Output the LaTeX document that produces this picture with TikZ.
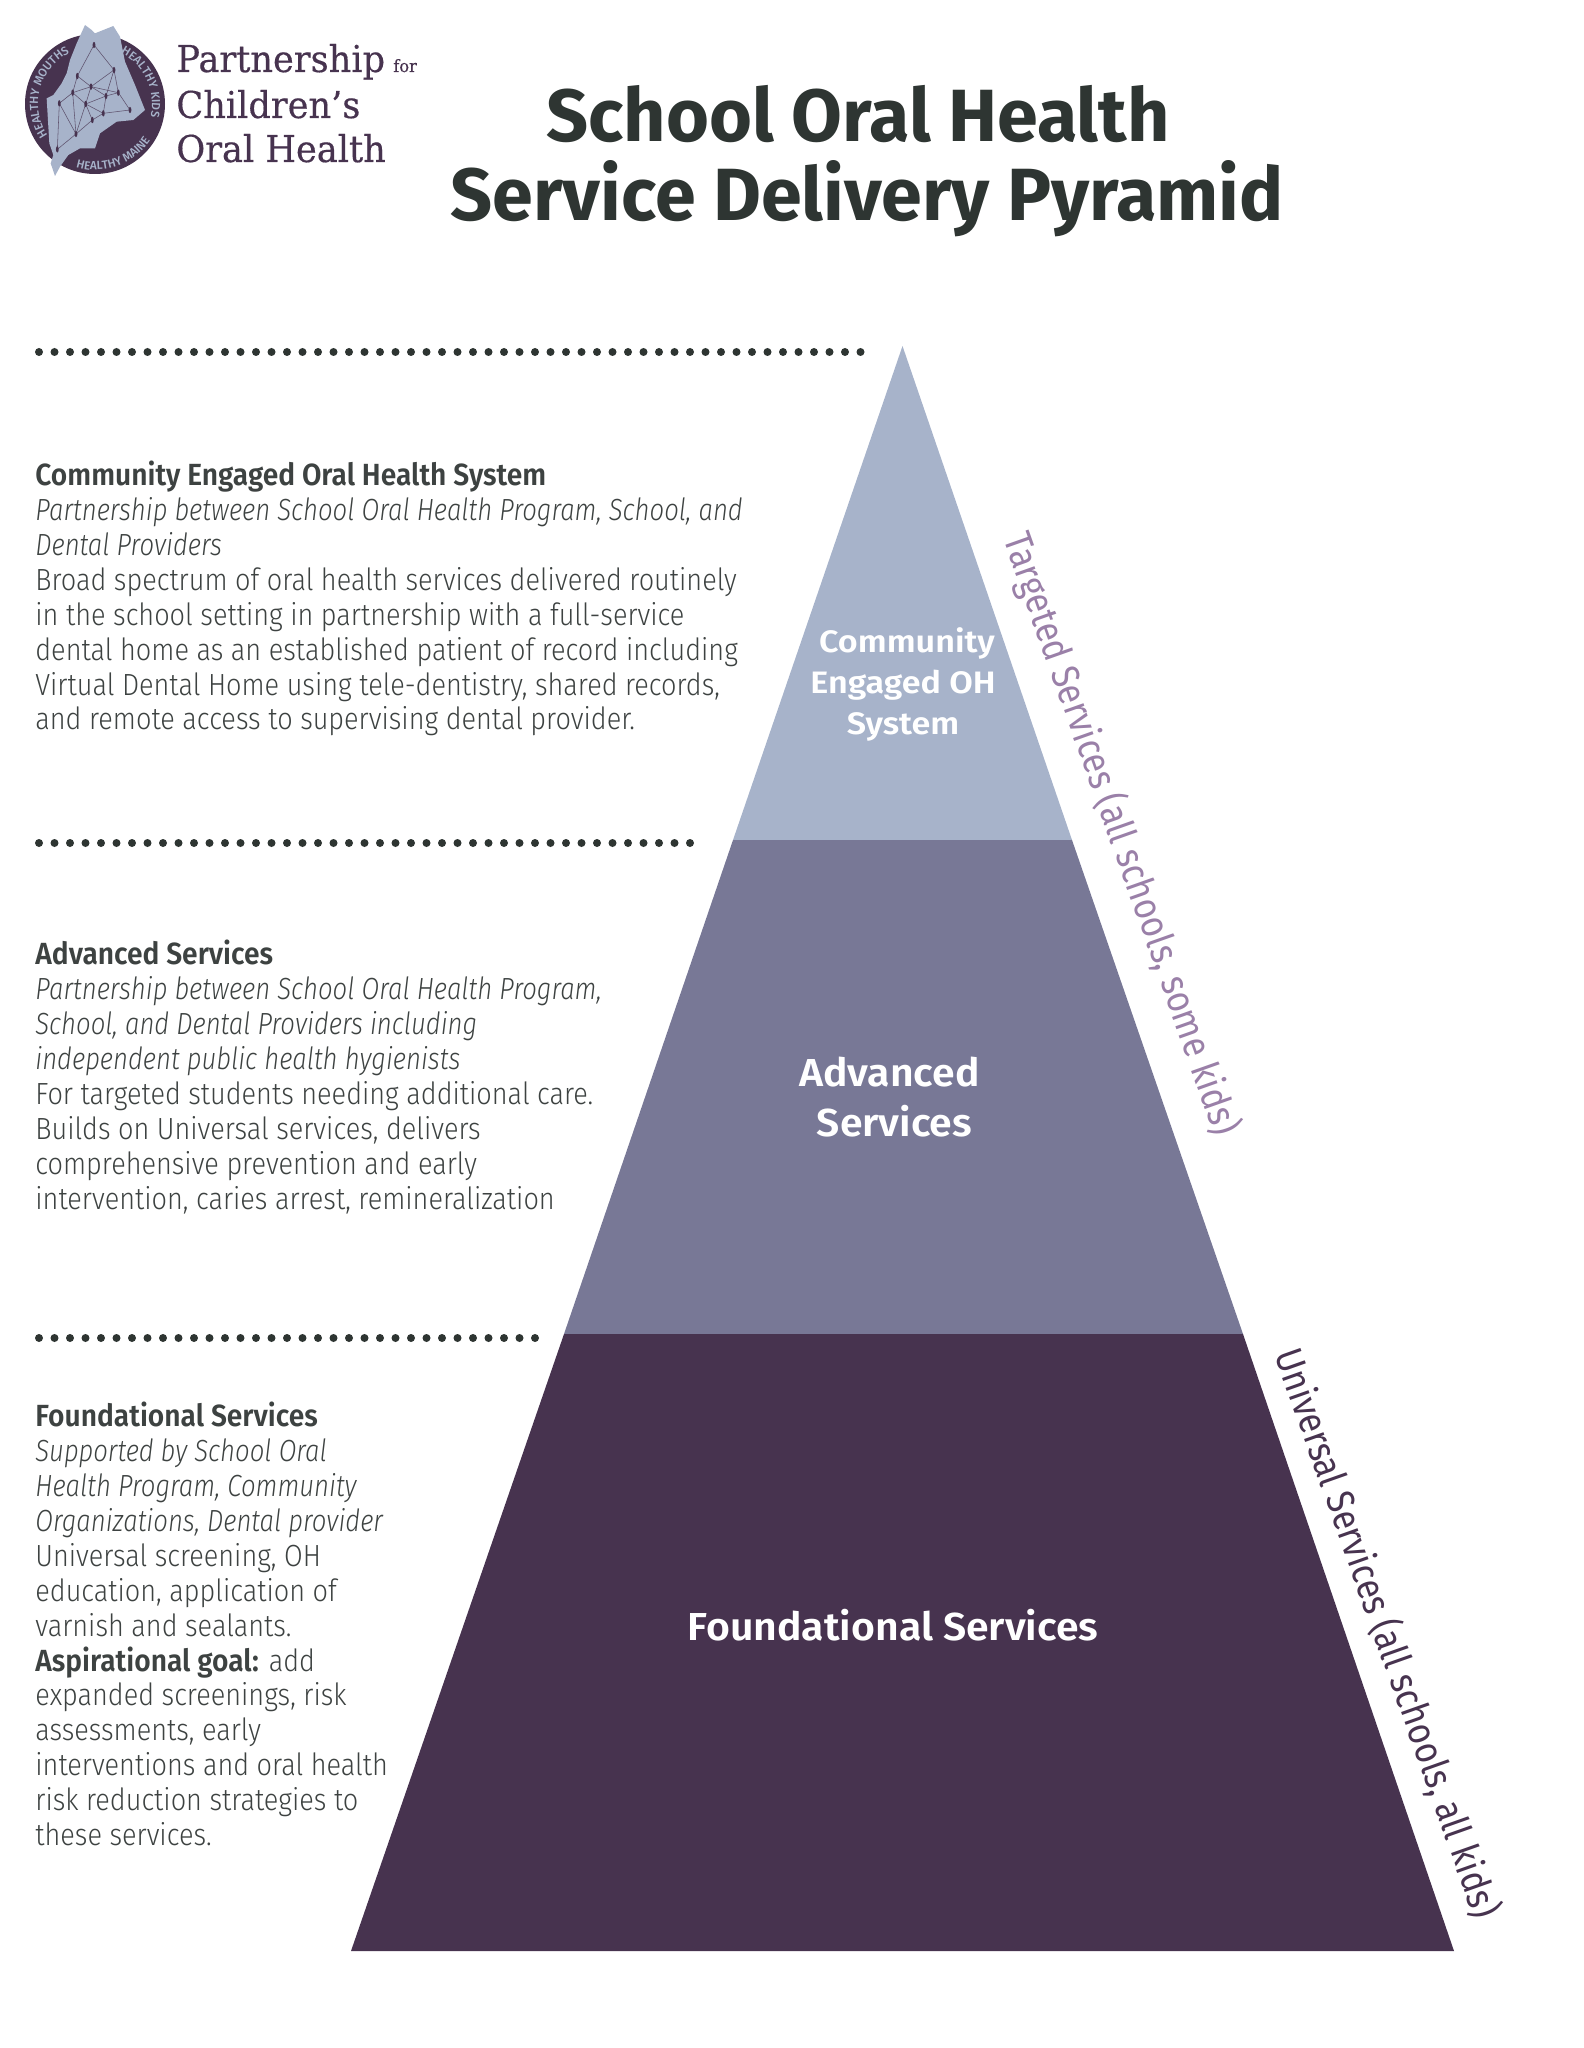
\documentclass[tikz,border=0pt]{standalone}
\usepackage{fontspec}
\usetikzlibrary{shapes.geometric,decorations.text}
\newfontfamily\bodyfont{Fira Sans}[UprightFont=* Light,ItalicFont=* Light Italic,BoldFont=* SemiBold,UprightFeatures={FakeStretch=0.885},ItalicFeatures={FakeStretch=0.84},BoldFeatures={FakeStretch=0.92}]
\newfontfamily\titlefont{Fira Sans}[UprightFont=* Bold,FakeStretch=0.995]
\newfontfamily\pyrfont{Fira Sans}[UprightFont=* SemiBold,FakeStretch=1.05]
\newfontfamily\pyrwide{Fira Sans}[UprightFont=* SemiBold,FakeStretch=1.1]
\newfontfamily\sidefont{Fira Sans}[FakeStretch=0.87]
\newfontfamily\logofont{DejaVu Serif}[FakeStretch=0.95,FakeBold=0.4]
\newfontfamily\ringfont{Fira Sans}[UprightFont=* Medium]
\definecolor{pyrtop}{HTML}{A7B3CA}
\definecolor{pyrmid}{HTML}{787896}
\definecolor{pyrlow}{HTML}{47334F}
\definecolor{inkdark}{HTML}{2E3532}
\definecolor{inkbody}{HTML}{3D4241}
\definecolor{sidelilac}{HTML}{9A80A8}
\tikzset{
  dots/.style={inkdark,line width=4pt,line cap=round,dash pattern=on 0pt off 7.75pt},
  body/.style={anchor=north west,inner sep=0pt,align=left,text=inkbody,font=\bodyfont\fontsize{15.3pt}{17.43pt}\selectfont},
  pyrtext/.style={text=white,inner sep=0pt,align=center},
  sidelabel/.style={inner sep=0pt,rotate=-70.5,font=\sidefont\fontsize{19.5pt}{22pt}\selectfont},
  logoline/.style={anchor=base west,inner sep=0pt,text=pyrlow,font=\logofont\fontsize{18.5pt}{22pt}\selectfont},
  titleline/.style={anchor=base,inner sep=0pt,text=inkdark,font=\titlefont\fontsize{37pt}{44pt}\selectfont},
  hub/.style={ellipse,fill=pyrlow,inner sep=0pt,minimum width=1.4pt,minimum height=3.2pt},
  link/.style={pyrlow!75!pyrtop,line width=0.28pt},
  ringtext/.style={decorate,decoration={text along path,text align=center,text={|\ringfont\fontsize{5.9pt}{7pt}\selectfont\color{pyrtop}|#1}}}
}
\begin{document}
\begin{tikzpicture}[x=0.5pt,y=-0.5pt]
\useasboundingbox (0,0) rectangle (1583,2048);
% pyramid
\coordinate (apex) at (902.5,346);
\coordinate (tl) at (733,840);
\coordinate (tr) at (1072,840);
\coordinate (ml) at (564,1334);
\coordinate (mr) at (1243,1334);
\coordinate (bl) at (351,1951);
\coordinate (br) at (1454,1951);
\fill[pyrtop] (apex) -- (tr) -- (tl) -- cycle;
\fill[pyrmid] (tl) -- (tr) -- (mr) -- (ml) -- cycle;
\fill[pyrlow] (ml) -- (mr) -- (br) -- (bl) -- cycle;
\node[pyrtext,font=\pyrwide\fontsize{15.5pt}{20.5pt}\selectfont] (ptop) at (903,684.5) {\hspace*{4pt}Community\\Engaged OH\\System};
\node[pyrtext,font=\pyrfont\fontsize{19.5pt}{25pt}\selectfont] (pmid) at (889.5,1097.5) {Advanced\\\hspace*{5pt}Services};
\node[pyrtext,font=\pyrfont\fontsize{19.5pt}{25pt}\selectfont] (plow) at (893,1625) {Foundational Services};
% side labels
\node[sidelabel,text=sidelilac] (sidetop) at (1121,834) {Targeted Services (all schools, some kids)};
\node[sidelabel,text=pyrlow] (sidelow) at (1387,1633) {Universal Services (all schools, all kids)};
% dotted rules
\coordinate (d1a) at (39,352); \coordinate (d1b) at (867,352);
\coordinate (d2a) at (39,843); \coordinate (d2b) at (695,843);
\coordinate (d3a) at (39,1338); \coordinate (d3b) at (539,1338);
\draw[dots] (d1a) -- (d1b);
\draw[dots] (d2a) -- (d2b);
\draw[dots] (d3a) -- (d3b);
% body text
\node[body] (t1) at (35,461) {\textbf{Community Engaged Oral Health System}\\
\textit{Partnership between School Oral Health Program, School, and}\\
\textit{Dental Providers}\\
Broad spectrum of oral health services delivered routinely\\
in the school setting in partnership with a full-service\\
dental home as an established patient of record including\\
Virtual Dental Home using tele-dentistry, shared records,\\
and remote access to supervising dental provider.};
\node[body] (t2) at (35,940) {\textbf{Advanced Services}\\
\textit{Partnership between School Oral Health Program,}\\
\textit{School, and Dental Providers including}\\
\textit{independent public health hygienists}\\
For targeted students needing additional care.\\
Builds on Universal services, delivers\\
comprehensive prevention and early\\
intervention, caries arrest, remineralization};
\node[body] (t3) at (35,1402) {\textbf{Foundational Services}\\
\textit{Supported by School Oral}\\
\textit{Health Program, Community}\\
\textit{Organizations, Dental provider}\\
Universal screening, OH\\
education, application of\\
varnish and sealants.\\
\textbf{Aspirational goal:} add\\
expanded screenings, risk\\
assessments, early\\
interventions and oral health\\
risk reduction strategies to\\
these services.};
% title
\node[titleline] (title1) at (858,141.5) {School Oral Health};
\node[titleline] (title2) at (867,220.5) {Service Delivery Pyramid};
% logo wordmark
\node[logoline] (w1) at (176,72) {Partnership};
\node[logoline,font=\logofont\fontsize{8.5pt}{9pt}\selectfont] (w2) at (393,72) {for};
\node[logoline] (w3) at (176,118) {Children’s};
\node[logoline] (w4) at (176,162) {Oral Health};
% logo mark
\fill[pyrlow] (95,104) circle[radius=70];
\path[ringtext=HEALTHY MOUTHS] plot[domain=225:105,samples=40] ({95+57*cos(\x)},{104-57*sin(\x)});
\path[ringtext=HEALTHY KIDS] plot[domain=75:-25,samples=40] ({95+57*cos(\x)},{104-57*sin(\x)});
\path[ringtext=HEALTHY MAINE] plot[domain=235:345,samples=40] ({95+66*cos(\x)},{104-66*sin(\x)});
\begin{scope}[shift={(20,20)},x=0.16667pt,y=-0.16667pt]
\fill[pyrtop] (105,468) -- (92,430) -- (100,405) -- (88,370) -- (80,235) -- (100,225) -- (125,190) -- (140,160) -- (150,120) -- (170,70) -- (195,15) -- (215,30) -- (225,40) -- (280,18) -- (300,50) -- (315,125) -- (330,160) -- (345,195) -- (375,270) -- (340,300) -- (290,305) -- (240,340) -- (225,385) -- (180,385) -- (145,405) -- (120,440) -- cycle;
\foreach \n/\p in {n1/{222,75},n2/{172,168},n3/{282,150},n4/{158,218},n5/{213,200},n6/{118,250},n7/{197,252},n8/{258,228},n9/{295,218},n10/{250,280},n11/{330,270},n12/{217,300},n13/{168,342},n14/{112,388}}
  \coordinate (\n) at (\p);
\foreach \a/\b in {n1/n2,n1/n3,n2/n5,n2/n4,n3/n5,n3/n9,n3/n8,n4/n7,n4/n6,n4/n5,n5/n7,n5/n8,n5/n9,n6/n13,n6/n14,n7/n8,n7/n10,n7/n12,n8/n9,n8/n10,n9/n11,n10/n11,n10/n12,n12/n13,n13/n14,n4/n13,n7/n13}
  \draw[link] (\a) -- (\b);
\foreach \n in {n1,n2,n3,n4,n5,n6,n7,n8,n9,n10,n11,n12,n13,n14}
  \node[hub] at (\n) {};
\end{scope}
\end{tikzpicture}
\end{document}
